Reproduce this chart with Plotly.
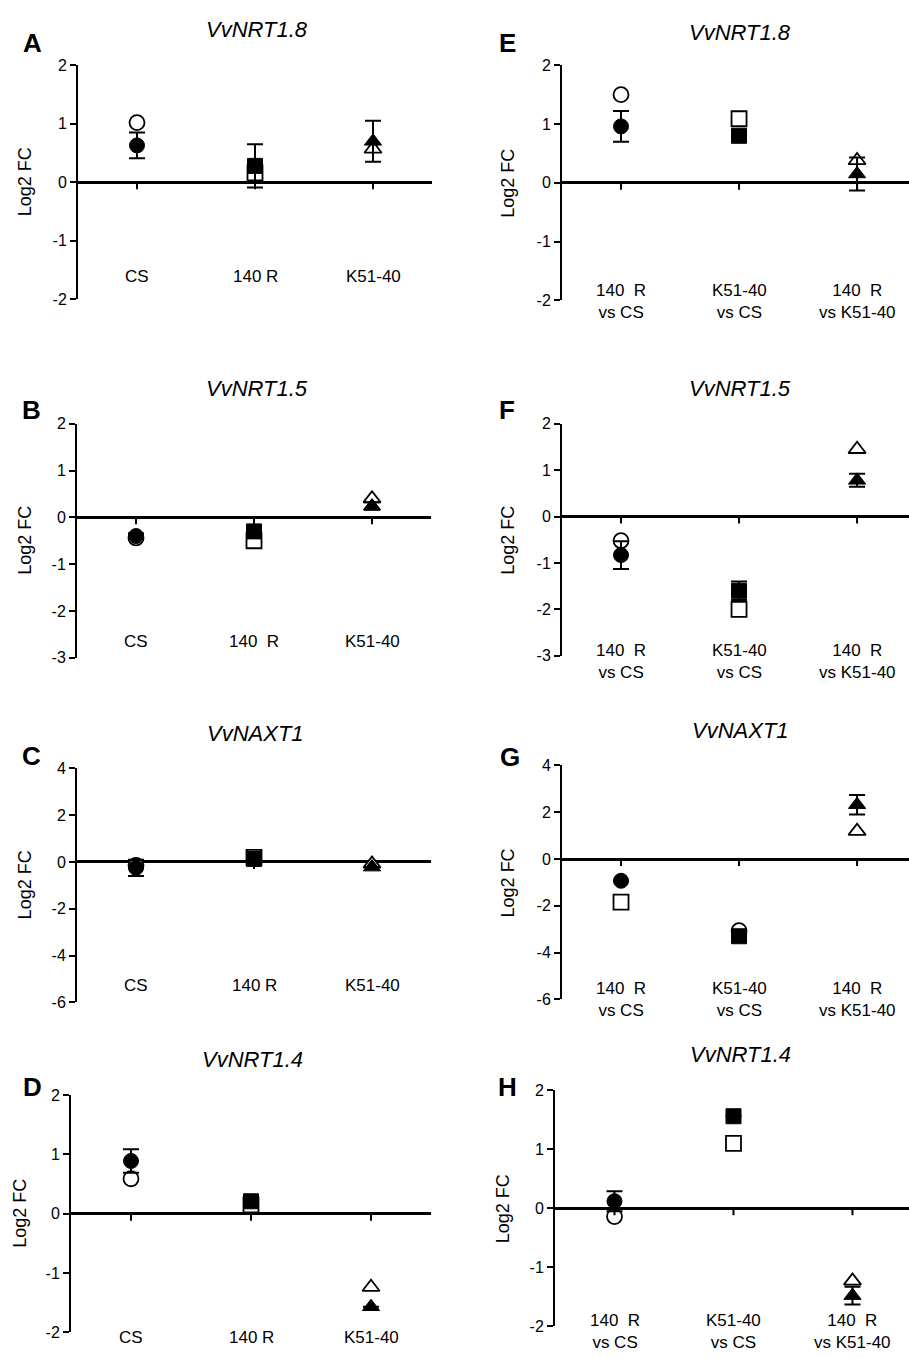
import plotly.graph_objects as go

W, H = 909, 1358
FONT = "Liberation Sans, Arial, sans-serif"

# ---------------- data ----------------
left_categories = ["CS", "140 R", "K51-40"]
left_categories_b = ["CS", "140\u00a0\u00a0R", "K51-40"]
right_categories = ["140\u00a0\u00a0R<br>vs CS", "K51-40<br>vs CS", "140\u00a0\u00a0R<br>vs K51-40"]
genes = ["VvNRT1.8", "VvNRT1.5", "VvNAXT1", "VvNRT1.4"]
panel_letters = ["A", "B", "C", "D", "E", "F", "G", "H"]

symbols_std = ["circle", "square", "triangle-up"]
symbols_g_open = ["square", "circle", "triangle-up"]

a_filled = [0.63, 0.28, 0.70]; a_err = [0.22, 0.37, 0.35]; a_open = [1.02, 0.16, 0.57]
b_filled = [-0.40, -0.30, 0.24]; b_err = [0.06, 0.08, 0.08]; b_open = [-0.44, -0.50, 0.40]
c_filled = [-0.25, 0.13, -0.22]; c_err = [0.35, 0.0, 0.0]; c_open = [-0.15, 0.20, -0.08]
d_filled = [0.89, 0.21, -1.57]; d_err = [0.20, 0.0, 0.0]; d_open = [0.59, 0.15, -1.24]
e_filled = [0.96, 0.80, 0.15]; e_err = [0.26, 0.0, 0.28]; e_open = [1.50, 1.09, 0.38]
f_filled = [-0.83, -1.60, 0.78]; f_err = [0.30, 0.20, 0.14]; f_open = [-0.52, -2.00, 1.45]
g_filled = [-0.93, -3.30, 2.32]; g_err = [0.0, 0.0, 0.42]; g_open = [-1.84, -3.06, 1.19]
h_filled = [0.12, 1.56, -1.48]; h_err = [0.17, 0.0, 0.15]; h_open = [-0.14, 1.10, -1.23]

y_ranges = {"A": [-2, 2], "B": [-3, 2], "C": [-6, 4], "D": [-2, 2],
            "E": [-2, 2], "F": [-3, 2], "G": [-6, 4], "H": [-2, 2]}
y_steps = {"A": 1, "B": 1, "C": 2, "D": 1, "E": 1, "F": 1, "G": 2, "H": 1}

# ---------------- layout geometry (pixels) ----------------
# x_left, x_right, y_top, y_bottom, x range end
geom = {
    "A": (78, 432, 58, 295, 2.5),
    "B": (77, 431, 421, 658, 2.5),
    "C": (77, 431, 770, 1007, 2.5),
    "D": (71, 431, 1101, 1341, 2.5),
    "E": (562, 909, 58, 296, 2.44),
    "F": (562, 909, 421, 656, 2.44),
    "G": (562, 909, 767, 1004, 2.44),
    "H": (555, 909, 1096, 1335, 2.475),
}
cat_label_y = {"A": 272, "B": 642, "C": 990, "D": 1346,
               "E": 297, "F": 662, "G": 1004, "H": 1340}
title_pos = {"A": (257, 22), "B": (257, 385), "C": (255, 735), "D": (252, 1065),
             "E": (740, 25), "F": (740, 385), "G": (740, 732), "H": (740, 1060)}
letter_pos = {"A": (32, 35), "B": (31, 407), "C": (31, 757), "D": (32, 1093),
              "E": (508, 35), "F": (507, 407), "G": (510, 758), "H": (508, 1093)}
ylab_x = {"A": 25, "B": 25, "C": 25, "D": 20, "E": 508, "F": 508, "G": 508, "H": 503}

panels = {
    "A": (a_filled, a_err, a_open, symbols_std, symbols_std, left_categories, genes[0]),
    "B": (b_filled, b_err, b_open, symbols_std, symbols_std, left_categories_b, genes[1]),
    "C": (c_filled, c_err, c_open, symbols_std, symbols_std, left_categories, genes[2]),
    "D": (d_filled, d_err, d_open, symbols_std, symbols_std, left_categories, genes[3]),
    "E": (e_filled, e_err, e_open, symbols_std, symbols_std, right_categories, genes[0]),
    "F": (f_filled, f_err, f_open, symbols_std, symbols_std, right_categories, genes[1]),
    "G": (g_filled, g_err, g_open, symbols_std, symbols_g_open, right_categories, genes[2]),
    "H": (h_filled, h_err, h_open, symbols_std, symbols_std, right_categories, genes[3]),
}

def px(x):
    return x / W

def py(y):
    return 1 - y / H

fig = go.Figure()
layout = dict(width=W, height=H, margin=dict(l=0, r=0, t=0, b=0),
              paper_bgcolor="white", plot_bgcolor="white", showlegend=False,
              font=dict(family=FONT, color="black"))
annotations = []
shapes = []

for i, key in enumerate(panel_letters):
    filled, err, opn, sym_f, sym_o, cats, gene = panels[key]
    xl, xr, yt, yb, xend = geom[key]
    n = i + 1
    xa = "xaxis" if n == 1 else f"xaxis{n}"
    ya = "yaxis" if n == 1 else f"yaxis{n}"
    xref = "x" if n == 1 else f"x{n}"
    yref = "y" if n == 1 else f"y{n}"
    lo, hi = y_ranges[key]
    step = y_steps[key]
    tv = list(range(lo, hi + 1, step))
    layout[xa] = dict(domain=[px(xl), px(xr)], range=[-0.5, xend], anchor=yref,
                      visible=False, fixedrange=True)
    layout[ya] = dict(domain=[py(yb), py(yt)], range=[lo, hi], anchor=xref,
                      showline=True, linecolor="black", linewidth=2,
                      ticks="outside", ticklen=6, tickwidth=2, tickcolor="black",
                      tickvals=tv, ticktext=[str(v) for v in tv],
                      tickfont=dict(size=16, family=FONT, color="black"),
                      showgrid=False, zeroline=True, zerolinecolor="black",
                      zerolinewidth=2.5, fixedrange=True)
    xs = list(range(len(cats)))
    fig.add_trace(go.Scatter(
        x=xs, y=opn, mode="markers", xaxis=xref, yaxis=yref,
        marker=dict(symbol=sym_o, size=15, color="white",
                    line=dict(color="black", width=1.8))))
    fig.add_trace(go.Scatter(
        x=xs, y=filled, mode="markers", xaxis=xref, yaxis=yref,
        error_y=dict(type="data", array=err, visible=True, color="black",
                     thickness=2, width=8),
        marker=dict(symbol=sym_f, size=15, color="black",
                    line=dict(color="black", width=1))))
    for xc in xs:
        shapes.append(dict(type="line", xref=xref, yref=yref, ysizemode="pixel",
                           yanchor=0, x0=xc, x1=xc, y0=0, y1=-7,
                           line=dict(color="black", width=2)))
    for xc, lab in zip(xs, cats):
        annotations.append(dict(x=xc, xref=xref, y=py(cat_label_y[key]), yref="paper",
                                text=lab, showarrow=False, xanchor="center",
                                yanchor="middle",
                                font=dict(size=17, family=FONT, color="black")))
    tx, ty = title_pos[key]
    annotations.append(dict(x=px(tx), y=py(ty), xref="paper", yref="paper",
                            text=f"<i>{gene}</i>", showarrow=False,
                            xanchor="center", yanchor="middle",
                            font=dict(size=22, family=FONT, color="black")))
    lx, ly = letter_pos[key]
    annotations.append(dict(x=px(lx), y=py(ly), xref="paper", yref="paper",
                            text=f"<b>{key}</b>", showarrow=False,
                            xanchor="center", yanchor="middle",
                            font=dict(size=26, family=FONT, color="black")))
    annotations.append(dict(x=px(ylab_x[key]), y=py((yt + yb) / 2), xref="paper",
                            yref="paper", text="Log2 FC", showarrow=False,
                            textangle=-90, xanchor="center", yanchor="middle",
                            font=dict(size=18, family=FONT, color="black")))

layout["annotations"] = annotations
layout["shapes"] = shapes
fig.update_layout(**layout)
fig.write_html(
    "out.html",
    config={"displayModeBar": False},
    post_script="document.documentElement.style.margin='0';"
                "document.body.style.margin='0';"
                "document.documentElement.style.overflow='hidden';"
                "document.body.style.overflow='hidden';"
                "var gd=document.getElementById('{plot_id}');"
                "gd.style.position='fixed';gd.style.top='0px';gd.style.left='0px';",
)
